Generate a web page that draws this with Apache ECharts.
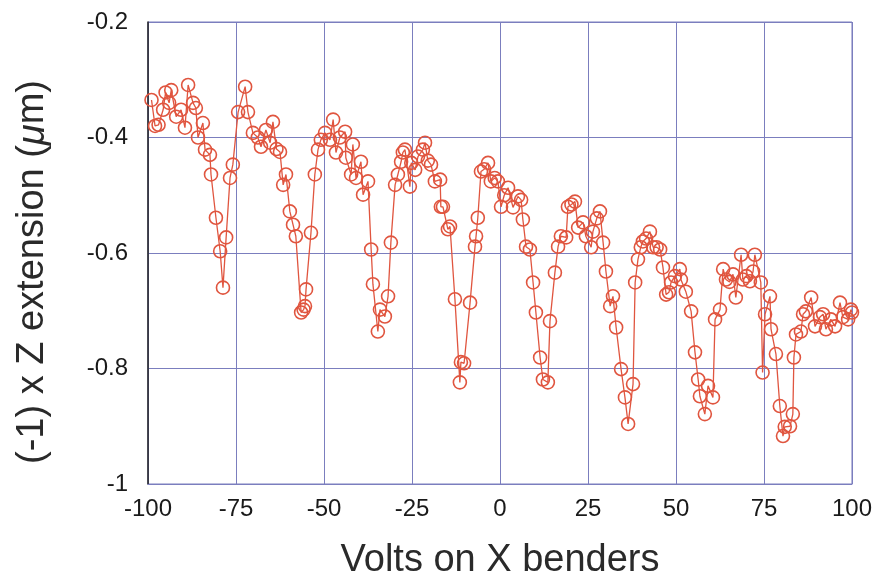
<!DOCTYPE html>
<html><head><meta charset="utf-8">
<script src="https://cdn.jsdelivr.net/npm/echarts@6/dist/echarts.min.js"></script>
<style>html,body{margin:0;padding:0;background:#fff}#c{width:875px;height:585px}</style>
</head><body><div id="c"></div>
<script>
const xVolts = [-99,-98,-97,-95.7,-95,-94,-93.4,-92,-90.6,-89.5,-88.6,-87.2,-86.4,-85.8,-84.4,-83.8,-82.4,-82.1,-80.7,-79.5,-78.7,-77.8,-76.7,-75.9,-74.4,-72.4,-71.6,-70.2,-68.8,-67.9,-66.5,-65.3,-64.5,-63.5,-62.5,-61.6,-60.8,-59.7,-58.8,-58,-56.5,-55.8,-55.4,-55.1,-53.7,-52.6,-51.7,-50.9,-49.7,-48.3,-47.4,-46.6,-45.5,-44,-43.8,-42.3,-41.8,-40.9,-39.5,-38.9,-37.5,-36.6,-36.1,-34.7,-34.1,-32.7,-31.8,-31,-29.8,-29,-28.1,-27.6,-27,-25.6,-25.2,-24.1,-23.3,-21.9,-21.3,-20.5,-19.6,-18.5,-17,-16.8,-16.2,-14.8,-14.2,-12.8,-11.4,-11.1,-10.2,-8.5,-7.1,-6.8,-6.3,-5.4,-4.5,-3.4,-2.6,-1.5,-0.6,0.3,1.2,2.3,3.7,5.1,6,6.5,7.4,8.5,9.4,10.2,11.4,12.2,13.6,14.2,15.6,16.5,17.3,18.8,19.3,20.3,21.3,22.2,23.6,24.4,25.9,26.4,27.5,28.4,29.3,30.1,31.3,32.1,33,34.4,35.5,36.4,37.8,38.4,39.2,40,40.6,41.5,42.6,43.5,44.5,45.5,46.3,47.2,48,48.6,49.7,51.1,51.4,52.8,54.3,55.4,56.3,56.8,58.2,59.1,60.5,61.1,62.5,63.4,64.2,65.2,66.2,67,68.5,69,70,71,71.9,72.4,74.1,74.6,75.3,76.7,77,78.4,79.5,80.4,80.9,82.4,83.2,83.5,84.1,85.5,86.1,86.9,88.4,89.5,90.9,91.8,92.6,94,95.2,96.6,97.4,98.9,99.7,100];
const zExt = [-0.335,-0.38,-0.378,-0.352,-0.322,-0.34,-0.318,-0.364,-0.352,-0.383,-0.309,-0.34,-0.349,-0.40,-0.375,-0.421,-0.43,-0.464,-0.539,-0.597,-0.66,-0.573,-0.47,-0.447,-0.356,-0.312,-0.356,-0.392,-0.40,-0.416,-0.387,-0.409,-0.373,-0.42,-0.425,-0.482,-0.464,-0.528,-0.551,-0.571,-0.703,-0.698,-0.692,-0.663,-0.565,-0.464,-0.421,-0.404,-0.392,-0.404,-0.369,-0.426,-0.40,-0.39,-0.435,-0.464,-0.412,-0.47,-0.442,-0.499,-0.476,-0.594,-0.654,-0.736,-0.698,-0.71,-0.675,-0.582,-0.482,-0.464,-0.442,-0.426,-0.421,-0.485,-0.444,-0.456,-0.433,-0.421,-0.409,-0.44,-0.447,-0.476,-0.473,-0.52,-0.52,-0.559,-0.554,-0.68,-0.824,-0.789,-0.791,-0.686,-0.589,-0.571,-0.539,-0.459,-0.455,-0.444,-0.476,-0.47,-0.476,-0.52,-0.50,-0.487,-0.521,-0.502,-0.508,-0.542,-0.589,-0.594,-0.651,-0.703,-0.781,-0.819,-0.824,-0.718,-0.634,-0.589,-0.571,-0.573,-0.52,-0.516,-0.511,-0.556,-0.547,-0.571,-0.59,-0.563,-0.54,-0.528,-0.582,-0.632,-0.692,-0.675,-0.729,-0.801,-0.85,-0.896,-0.827,-0.651,-0.611,-0.59,-0.58,-0.575,-0.563,-0.59,-0.59,-0.594,-0.625,-0.672,-0.668,-0.651,-0.64,-0.628,-0.646,-0.667,-0.701,-0.772,-0.819,-0.848,-0.879,-0.83,-0.85,-0.715,-0.698,-0.628,-0.646,-0.65,-0.637,-0.677,-0.603,-0.646,-0.64,-0.649,-0.632,-0.603,-0.651,-0.807,-0.706,-0.675,-0.732,-0.775,-0.865,-0.917,-0.901,-0.9,-0.879,-0.781,-0.741,-0.736,-0.706,-0.701,-0.677,-0.727,-0.711,-0.706,-0.732,-0.715,-0.727,-0.686,-0.711,-0.715,-0.698,-0.703];
const xTicks = [-100,-75,-50,-25,0,25,50,75,100];
const yTicks = [-1,-0.8,-0.6,-0.4,-0.2];

const chart = echarts.init(document.getElementById('c'), null, {renderer:'canvas'});
const gridCol = '#7b7ebe';
const font = 'Liberation Sans, Arial, Helvetica, sans-serif';
chart.setOption({
  animation:false,
  backgroundColor:'#fff',
  grid:{left:148, right:23, top:22, bottom:100, show:true, borderColor:gridCol, borderWidth:1},
  xAxis:{type:'value', min:-100, max:100, interval:25,
    name:'Volts on X benders', nameLocation:'middle', nameGap:58,
    nameTextStyle:{fontSize:38, color:'#2a2a2a', fontFamily:font},
    axisLine:{show:true, onZero:false, lineStyle:{color:gridCol}},
    axisTick:{show:false},
    splitLine:{show:true, lineStyle:{color:gridCol, width:1}},
    axisLabel:{fontSize:24, color:'#1a1a1a', fontFamily:font, margin:13,
      formatter:v=>xTicks.includes(v)?String(v):''}
  },
  yAxis:{type:'value', min:-1, max:-0.2, interval:0.2,
    name:'(-1) x Z extension ({i|\u03bc}m)', nameLocation:'middle', nameGap:96, nameRotate:90,
    nameTextStyle:{fontSize:38, color:'#2a2a2a', fontFamily:font, padding:[0,38,0,0],
      rich:{i:{fontSize:38, fontStyle:'italic', color:'#2a2a2a', fontFamily:font}}},
    axisLine:{show:true, onZero:false, lineStyle:{color:'#222', width:1.5}},
    axisTick:{show:false},
    splitLine:{show:true, lineStyle:{color:gridCol, width:1}},
    axisLabel:{fontSize:24, color:'#1a1a1a', fontFamily:font, margin:20,
      formatter:v=>{const r=Math.round(v*10)/10; return yTicks.includes(r)?String(r):'';}}
  },
  series:[{type:'line', data:xVolts.map((x,i)=>[x,zExt[i]]),
    symbol:'circle', symbolSize:13, showAllSymbol:true,
    lineStyle:{color:'#e0553f', width:1.3},
    itemStyle:{color:'rgba(255,255,255,0)', borderColor:'#e0553f', borderWidth:1.6},
    clip:false}]
});
</script></body></html>
